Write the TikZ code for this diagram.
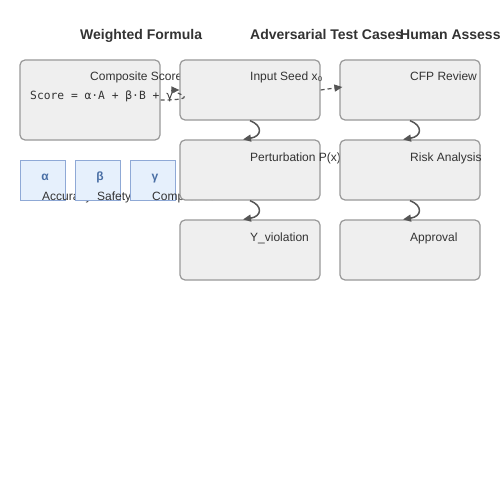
\documentclass[tikz,border=0pt]{standalone}
\usepackage{fontspec}
\setmainfont{Liberation Sans}
\newfontfamily\monofont{DejaVu Sans Mono}
\usetikzlibrary{arrows.meta,calc}
\definecolor{boxfill}{HTML}{EFEFEF}
\definecolor{boxline}{HTML}{999999}
\definecolor{wfill}{HTML}{E6F0FC}
\definecolor{wline}{HTML}{8FA9D6}
\definecolor{wtext}{HTML}{4A6FA5}
\definecolor{txt}{HTML}{333333}
\definecolor{conn}{HTML}{555555}
\tikzset{
  mainbox/.style={draw=boxline,fill=boxfill,line width=1.2pt,rounded corners=5pt,minimum width=140pt,inner sep=0pt},
  wbox/.style={draw=wline,fill=wfill,line width=1pt,minimum width=45pt,minimum height=40pt,inner sep=0pt},
  lbl/.style={anchor=base west,inner sep=0pt,text=txt,font=\fontsize{12}{14}\selectfont},
  ttl/.style={anchor=base west,inner sep=0pt,text=txt,font=\fontsize{14}{16}\selectfont\bfseries},
  wsym/.style={anchor=base,inner sep=0pt,text=wtext,font=\fontsize{12}{14}\selectfont\bfseries},
  flow/.style={draw=conn,line width=1.5pt,-{Triangle[length=8pt,width=7pt]}},
  dflow/.style={draw=conn,line width=1.2pt,dashed,dash pattern=on 4pt off 3pt,-{Triangle[length=8pt,width=7pt]}}
}
\begin{document}
\begin{tikzpicture}[x=1pt,y=-1pt]
\useasboundingbox[fill=white] (0,0) rectangle (500,500);
% titles
\node[ttl] (t1) at (80,40) {Weighted Formula};
\node[ttl] (t2) at (250,40) {Adversarial Test Cases};
\node[ttl] (t3) at (400,40) {Human Assessment};
% composite box
\node[mainbox,minimum height=80pt] (comp) at (90,100) {};
\node[lbl] (compl) at (90,81) {Composite Score};
\node[anchor=base west,inner sep=0pt,text=txt,font=\monofont\fontsize{11.3}{13}\selectfont] (form) at (30,100) {Score = α·A + β·B + γ};
% weights
\node[wbox] (wa) at (42.5,180) {};
\node[wsym] (wal) at (45,180) {α};
\node[lbl] (wat) at (42,200) {Accuracy};
\node[wbox] (wb) at (97.5,180) {};
\node[wsym] (wbl) at (100,180) {β};
\node[lbl] (wbt) at (97,200) {Safety};
\node[wbox] (wc) at (152.5,180) {};
\node[wsym] (wcl) at (155,180) {γ};
\node[lbl] (wct) at (152,200) {Compliance};
% column 2
\node[mainbox,minimum height=60pt] (seed) at (250,90) {};
\node[lbl] (seedl) at (250,81) {Input Seed x₀};
\node[mainbox,minimum height=60pt] (pert) at (250,170) {};
\node[lbl] (pertl) at (250,161) {Perturbation P(x)};
\node[mainbox,minimum height=60pt] (viol) at (250,250) {};
\node[lbl] (violl) at (250,241) {Y\_violation};
% column 3
\node[mainbox,minimum height=60pt] (cfp) at (410,90) {};
\node[lbl] (cfpl) at (410,81) {CFP Review};
\node[mainbox,minimum height=60pt] (risk) at (410,170) {};
\node[lbl] (riskl) at (410,161) {Risk Analysis};
\node[mainbox,minimum height=60pt] (appr) at (410,250) {};
\node[lbl] (apprl) at (410,241) {Approval};
% vertical connectors
\draw[flow] (seed.south) .. controls +(13,5) and +(19,-3) .. ([xshift=-7pt]pert.north);
\draw[flow] (pert.south) .. controls +(13,5) and +(19,-3) .. ([xshift=-7pt]viol.north);
\draw[flow] (cfp.south) .. controls +(13,5) and +(19,-3) .. ([xshift=-7pt]risk.north);
\draw[flow] (risk.south) .. controls +(13,5) and +(19,-3) .. ([xshift=-7pt]appr.north);
% dashed connectors
\draw[dflow] (comp.east) .. controls +(50,0) and +(-15,0) .. (seed.west);
\draw[dflow] (seed.east) -- ([xshift=3pt,yshift=3pt]cfp.west);
\end{tikzpicture}
\end{document}
